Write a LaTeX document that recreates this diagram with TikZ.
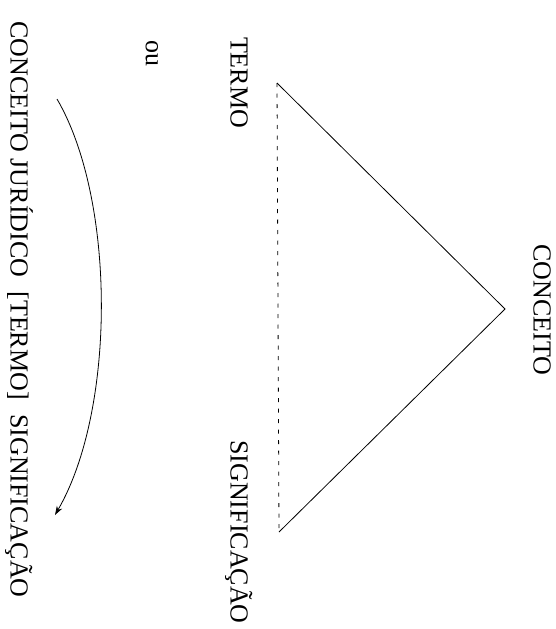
\documentclass[tikz,border=0pt]{standalone}
\usepackage{fontspec}
\setmainfont{Liberation Serif}
\usetikzlibrary{arrows.meta}
\tikzset{
  capstext/.style={rotate=-90, inner sep=0pt, font=\fontsize{26}{26}\selectfont,
               text height=0.662em, text depth=0pt},
  lowtext/.style={rotate=-90, inner sep=0pt, font=\fontsize{26}{26}\selectfont,
               text height=0.45em, text depth=0pt},
  sideline/.style={line width=0.8pt, line join=miter},
  dashbase/.style={line width=0.8pt, dash pattern=on 4pt off 6.5pt},
  arcarrow/.style={line width=0.8pt, -{Stealth[length=9pt,width=6pt]}}
}
\begin{document}
\begin{tikzpicture}[x=1pt, y=-1pt]
  \useasboundingbox (0,0) rectangle (555,629);

  % triangle corners
  \coordinate (termoV)  at (277,83);
  \coordinate (concV)   at (505,309);
  \coordinate (signifV) at (279,532);

  % labels of the triangle
  \node[capstext] (termo)  at (234,82.5) {TERMO};
  \node[capstext] (conc)   at (537,310)  {CONCEITO};
  \node[capstext] (signif) at (234,532)  {SIGNIFICAÇÃO};

  % sides and dashed base
  \draw[sideline] (termoV) -- (concV) -- (signifV);
  \draw[dashbase] (termoV) -- (signifV);

  % alternative reading
  \node[lowtext] (ou) at (148,53.5) {ou};
  \node[capstext] (juridico) at (14,309.5)
    {CONCEITO JURÍDICO\hspace{0.55em}[TERMO]\hspace{0.55em}SIGNIFICAÇÃO};

  % curved arrow
  \coordinate (arcStart) at (57,99);
  \coordinate (arcEnd)   at (55,515);
  \draw[arcarrow] (arcStart) .. controls (116,200) and (116,410) .. (arcEnd);
\end{tikzpicture}
\end{document}
